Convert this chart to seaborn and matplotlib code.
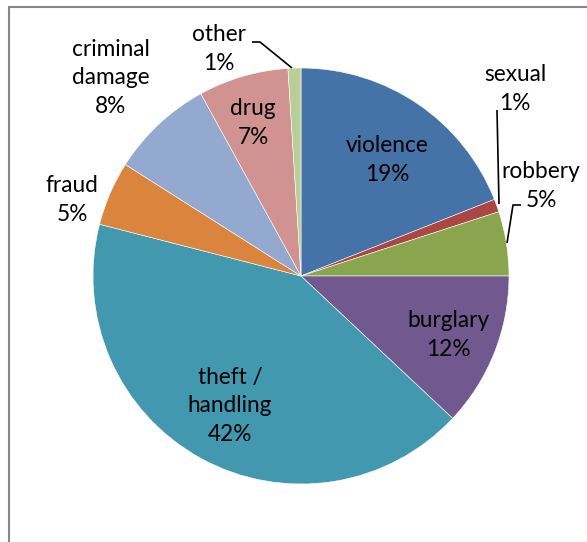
import matplotlib
matplotlib.use("Agg")
import matplotlib.pyplot as plt
from matplotlib.patches import Rectangle
import seaborn as sns

# Offence categories and their share of recorded crime (%)
categories = ["violence", "sexual", "robbery", "burglary", "theft /\nhandling",
              "fraud", "criminal\ndamage", "drug", "other"]
shares = [19, 1, 5, 12, 42, 5, 8, 7, 1]
colors = ["#4572A7", "#AA4643", "#89A54E", "#71588F", "#4198AF",
          "#DB843D", "#93A9CF", "#D19392", "#B9CD96"]

W, H = 587, 542
sns.set_theme(style="white")
plt.rcParams["font.family"] = ["Lato", "DejaVu Sans"]

fig = plt.figure(figsize=(W / 100, H / 100), dpi=100)
ax = fig.add_axes([0, 0, 1, 1])

# pixel-style coordinates: y measured downward from the top edge
def py(y):
    return H - y

cx, cy, r = 301, 276, 208
ax.pie(shares, colors=sns.color_palette(colors), startangle=90, counterclock=False,
       center=(cx, py(cy)), radius=r,
       wedgeprops=dict(edgecolor="white", linewidth=0.4))
ax.set_xlim(0, W)
ax.set_ylim(0, H)
ax.set_aspect("equal", adjustable="box")
ax.axis("off")

# chart frame (extends past the right and bottom edges)
ax.add_patch(Rectangle((9, py(H + 20)), W + 20, H + 20 - 7, fill=False,
                       edgecolor="#868686", linewidth=1.5, clip_on=False))

label_pos = {
    "violence": (387, 160),
    "sexual": (515, 89),
    "robbery": (541, 186),
    "burglary": (448, 335),
    "theft /\nhandling": (230, 406),
    "fraud": (72, 200),
    "criminal\ndamage": (111, 78),
    "drug": (253, 123),
    "other": (219, 49),
}
for cat, val in zip(categories, shares):
    x, y = label_pos[cat]
    ax.text(x, py(y), f"{cat}\n{val}%", ha="center", va="center",
            fontsize=16.3, color="black", linespacing=1.44)

# leader lines for the thin slices
leaders = [
    [(497, 110), (499, 204)],
    [(521, 205), (513, 205), (507, 243)],
    [(252, 42), (260, 42), (292, 68)],
]
for pts in leaders:
    xs = [p[0] for p in pts]
    ys = [py(p[1]) for p in pts]
    ax.plot(xs, ys, color="black", linewidth=1.2, solid_capstyle="butt")

fig.savefig("out.png", dpi=100)
